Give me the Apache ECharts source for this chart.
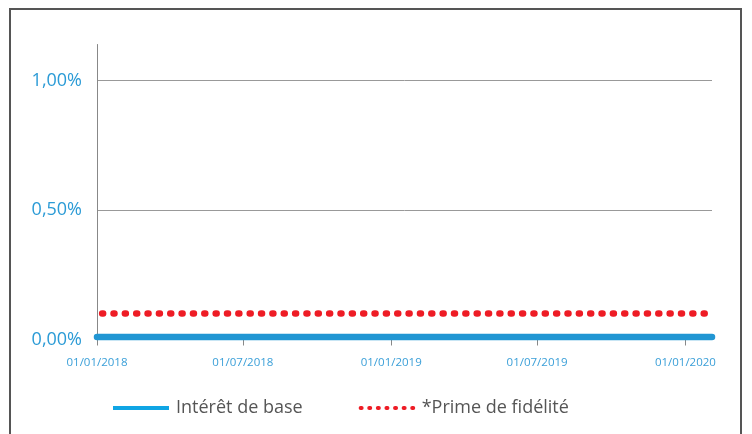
<!DOCTYPE html>
<html>
<head>
<meta charset="utf-8">
<script src="https://cdn.jsdelivr.net/npm/echarts@6/dist/echarts.min.js"></script>
<style>
  html, body { margin: 0; padding: 0; background: #fff; }
  #chart { width: 752px; height: 434px; }
</style>
</head>
<body>
<div id="chart"></div>
<script>
// dates of the first and last point
const dates = ['2018-01-01', '2020-02-03']
const baseRate = [0.01, 0.01]
const primeRate = [0.10, 0.10]
const tickDates = ['2018-01-01', '2018-07-01', '2019-01-01', '2019-07-01', '2020-01-01']
const seriesNames = ['Intérêt de base', '*Prime de fidélité']

const toTime = function (s) {
  const p = s.split('-')
  return Date.UTC(+p[0], +p[1] - 1, +p[2])
}
const pad = function (n) { return n < 10 ? '0' + n : '' + n }
const fmtDate = function (v) {
  const d = new Date(v)
  return pad(d.getUTCDate()) + '/' + pad(d.getUTCMonth() + 1) + '/' + d.getUTCFullYear()
}

const tickValues = tickDates.map(toTime)
const font = 'Open Sans'

const chart = echarts.init(document.getElementById('chart'))
chart.setOption({
  animation: false,
  backgroundColor: '#fff',
  textStyle: { fontFamily: font },
  graphic: [{
    type: 'rect',
    shape: { x: 10, y: 9, width: 731, height: 500 },
    style: { fill: 'none', stroke: '#555', lineWidth: 2 },
    silent: true
  }],
  grid: {
    left: 97,
    right: 40,
    top: 44.5,
    bottom: 94.5
  },
  legend: {
    left: 111,
    top: 399,
    padding: 0,
    itemWidth: 56,
    itemHeight: 20,
    itemGap: 54,
    textStyle: { color: '#555', fontSize: 18, fontFamily: font, padding: [0, 0, 0, 2] },
    data: [
      {
        name: seriesNames[0],
        itemStyle: { opacity: 0 },
        lineStyle: { color: '#10a5e4', width: 4, type: 'solid', cap: 'butt' }
      },
      {
        name: seriesNames[1],
        itemStyle: { opacity: 0 },
        lineStyle: { color: '#ee1c25', width: 4, type: [1, 7.6], cap: 'round', dashOffset: -2 }
      }
    ]
  },
  xAxis: {
    type: 'value',
    min: toTime(dates[0]),
    max: toTime(dates[dates.length - 1]),
    axisLine: { show: true, lineStyle: { color: '#888', width: 1 } },
    axisTick: {
      show: true,
      length: 6,
      customValues: tickValues,
      lineStyle: { color: '#888', width: 1 }
    },
    axisLabel: {
      customValues: tickValues,
      margin: 17,
      color: '#3a9fd8',
      fontSize: 11.5,
      fontFamily: font,
      formatter: fmtDate
    },
    splitLine: { show: false }
  },
  yAxis: {
    type: 'value',
    min: 0,
    max: 1.14,
    interval: 0.5,
    axisLine: { show: true, lineStyle: { color: '#888', width: 1 } },
    axisTick: { show: false },
    axisLabel: {
      showMaxLabel: false,
      margin: 15,
      color: '#2b9bd6',
      fontSize: 18,
      fontFamily: font,
      formatter: function (v) {
        return v.toFixed(2).replace('.', ',') + '%'
      }
    },
    splitLine: {
      show: true,
      lineStyle: { color: ['#999', '#999', '#999', 'rgba(0,0,0,0)'], width: 1 }
    }
  },
  series: [
    {
      name: seriesNames[0],
      type: 'line',
      symbol: 'none',
      data: dates.map(function (d, i) { return [toTime(d), baseRate[i]] }),
      lineStyle: { color: '#2196d3', width: 6.5, cap: 'round' },
      itemStyle: { color: '#10a5e4' }
    },
    {
      name: seriesNames[1],
      type: 'line',
      symbol: 'none',
      data: dates.map(function (d, i) { return [toTime(d), primeRate[i]] }),
      lineStyle: { color: '#ee1c25', width: 6.5, type: [1, 10.35], cap: 'round', dashOffset: 6.2 },
      itemStyle: { color: '#ee1c25' }
    }
  ]
})
</script>
</body>
</html>
